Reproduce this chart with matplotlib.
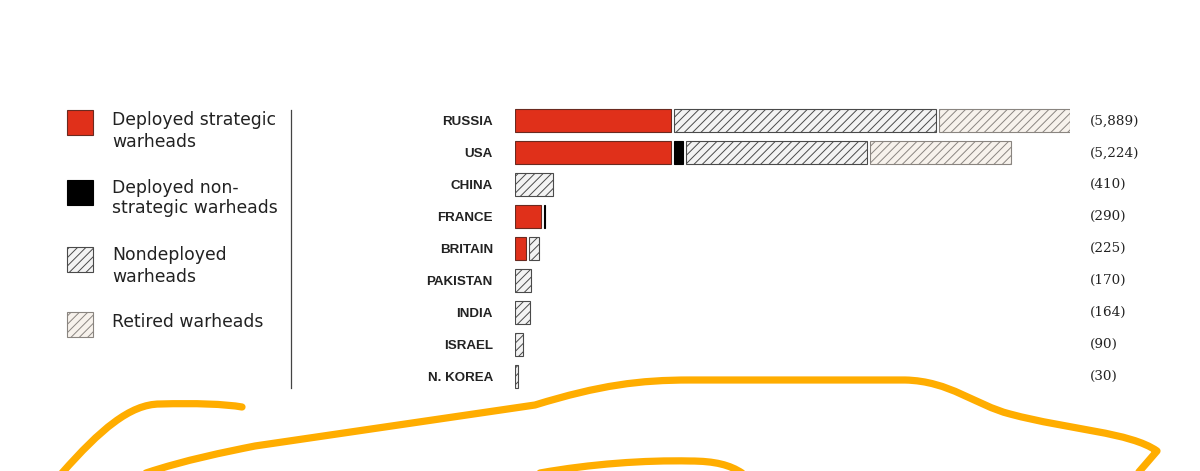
import matplotlib
matplotlib.use('Agg')
import matplotlib.pyplot as plt
import matplotlib.transforms as mtransforms
from matplotlib.patches import Rectangle, PathPatch
from matplotlib.path import Path
from matplotlib.lines import Line2D

# ---------------- data ----------------
countries = ['RUSSIA', 'USA', 'CHINA', 'FRANCE', 'BRITAIN', 'PAKISTAN', 'INDIA', 'ISRAEL', 'N. KOREA']
deployed_strategic = [1674, 1670, 0, 280, 120, 0, 0, 0, 0]
deployed_nonstrategic = [0, 100, 0, 10, 0, 0, 0, 0, 0]
nondeployed = [2815, 1938, 410, 0, 105, 170, 164, 90, 30]
retired = [1400, 1516, 0, 0, 0, 0, 0, 0, 0]
total_labels = ['(5,889)', '(5,224)', '(410)', '(290)', '(225)', '(170)', '(164)', '(90)', '(30)']
legend_lines = [['Deployed strategic', 'warheads'],
                ['Deployed non-', 'strategic warheads'],
                ['Nondeployed', 'warheads'],
                ['Retired warheads']]

# ---------------- styles ----------------
plt.rcParams['hatch.linewidth'] = 0.7
RED = '#e0301a'
styles = [
    dict(facecolor=RED, edgecolor='#6a2a20', hatch=None, linewidth=0.8),
    dict(facecolor='#000000', edgecolor='#000000', hatch=None, linewidth=0.8),
    dict(facecolor='#f3f3f3', edgecolor='#4a4a4a', hatch='////', linewidth=0.8),
    dict(facecolor='#f7f2ec', edgecolor='#8a8580', hatch='////', linewidth=0.8),
]
series = [deployed_strategic, deployed_nonstrategic, nondeployed, retired]

W, H = 1200, 471
fig = plt.figure(figsize=(W / 100, H / 100), dpi=100)


def fx(x):
    return x / W


def fy(y):
    return 1 - y / H


ax_left, ax_right, ax_top, ax_bot = 515, 1070, 105, 392
ax = fig.add_axes([fx(ax_left), fy(ax_bot), fx(ax_right - ax_left), (ax_bot - ax_top) / H])

gap = 32
n = len(countries)
ypos = list(range(n))
for i in range(n):
    cum = 0
    for s, vals in enumerate(series):
        v = vals[i]
        if v <= 0:
            continue
        st = styles[s]
        ax.barh(ypos[i], v, left=cum, height=0.72, facecolor=st['facecolor'],
                edgecolor=st['edgecolor'], hatch=st['hatch'], linewidth=st['linewidth'], zorder=3)
        cum += v + gap

ax.set_xlim(0, 5889 + 2 * gap)
ax.set_ylim(n - 0.5, -0.5)
ax.set_yticks(ypos)
ax.set_yticklabels(countries, fontfamily='Liberation Sans', fontweight='bold', fontsize=9.6, color='#222222')
ax.tick_params(axis='y', length=0, pad=16)
ax.set_xticks([])
for sp in ['top', 'right', 'bottom', 'left']:
    ax.spines[sp].set_visible(False)

trans = mtransforms.blended_transform_factory(ax.transAxes, ax.transData)
for i, lab in enumerate(total_labels):
    ax.text((1090 - ax_left) / (ax_right - ax_left), ypos[i], lab, transform=trans,
            ha='left', va='center', fontfamily='DejaVu Serif', fontsize=9.7, color='#222222')

# ---------------- legend ----------------
patch_tops = [110, 180, 247, 312]
baselines = [[125, 147], [193, 213], [260, 282], [327]]
for k in range(4):
    st = styles[k]
    r = Rectangle((fx(67), fy(patch_tops[k] + 25)), fx(26), 25 / H, transform=fig.transFigure,
                  facecolor=st['facecolor'], edgecolor=st['edgecolor'], hatch=st['hatch'],
                  linewidth=0.8)
    fig.patches.append(r)
    for line, b in zip(legend_lines[k], baselines[k]):
        fig.text(fx(112), fy(b), line, ha='left', va='baseline', fontfamily='DejaVu Sans',
                 fontsize=12.4, color='#222222')

fig.add_artist(Line2D([fx(291), fx(291)], [fy(110), fy(388)], transform=fig.transFigure,
                      color='#444444', linewidth=0.9))

# ---------------- hand-drawn orange annotation ----------------
def pth(cmds):
    verts, codes = [], []
    for c, pts in cmds:
        for p in pts:
            verts.append((fx(p[0]), fy(p[1])))
        if c == 'M':
            codes.append(Path.MOVETO)
        elif c == 'L':
            codes.append(Path.LINETO)
        elif c == 'C':
            codes += [Path.CURVE4] * 3
    return Path(verts, codes)

ORANGE = '#ffad00'
scribbles = [
    [('M', [(62, 473)]), ('C', [(100, 430), (130, 404), (160, 404)]), ('C', [(195, 403), (225, 404), (242, 407)])],
    [('M', [(146, 473)]), ('C', [(185, 460), (225, 452), (255, 446)]), ('L', [(535, 405)]),
     ('C', [(600, 385), (640, 380), (690, 380)]), ('L', [(905, 380)]),
     ('C', [(950, 381), (975, 405), (1010, 414)]), ('C', [(1070, 430), (1130, 432), (1157, 451)]),
     ('L', [(1138, 473)])],
    [('M', [(540, 473)]), ('C', [(590, 464), (645, 460), (690, 461)]), ('C', [(715, 461), (730, 465), (742, 473)])],
]
for cmds in scribbles:
    pp = PathPatch(pth(cmds), transform=fig.transFigure, facecolor='none', edgecolor=ORANGE,
                   linewidth=5.2, capstyle='round', joinstyle='round')
    fig.patches.append(pp)

fig.savefig('out.png', dpi=100, facecolor='white')
